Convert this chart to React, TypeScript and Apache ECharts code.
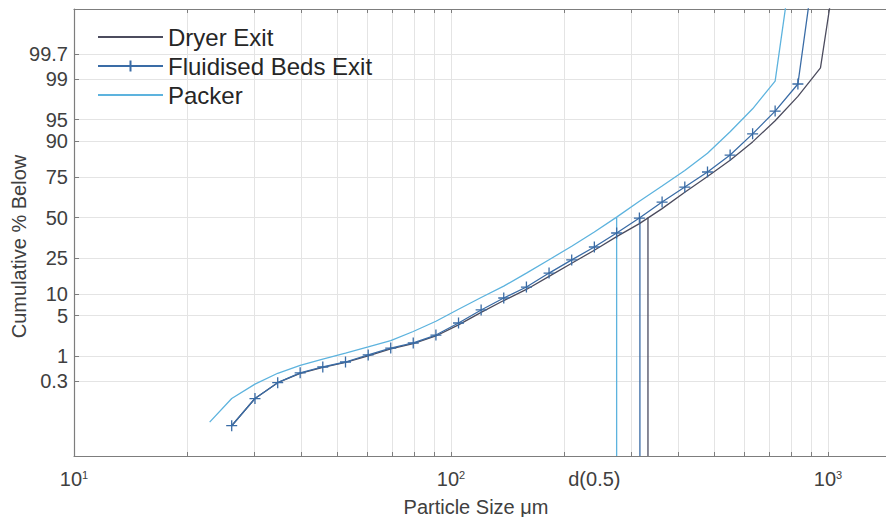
import React, { useEffect, useRef } from "react";
import * as echarts from "echarts";

// ---- data (particle size in µm, cumulative % below) ----
const seriesNames = ["Dryer Exit", "Fluidised Beds Exit", "Packer"];

const dryerSizes = [26.2, 30.2, 34.7, 39.8, 45.7, 52.5, 60.3, 69.2, 79.4, 91.2, 104.7, 120.2, 138, 158.5, 182, 209, 240, 275, 316, 363, 417, 479, 550, 631, 724, 832, 955, 1096];
const dryerPct = [0.024, 0.12, 0.28, 0.45, 0.6, 0.76, 1.02, 1.38, 1.72, 2.35, 3.6, 5.6, 8.2, 11.4, 16.2, 22.2, 29.2, 37.5, 46.0, 56.0, 66.5, 75.5, 83.2, 89.8, 94.8, 97.9, 99.4, 100];

const fluidSizes = [26.2, 30.2, 34.7, 39.8, 45.7, 52.5, 60.3, 69.2, 79.4, 91.2, 104.7, 120.2, 138, 158.5, 182, 209, 240, 275, 316, 363, 417, 479, 550, 631, 724, 832, 955];
const fluidPct = [0.024, 0.12, 0.28, 0.46, 0.61, 0.77, 1.06, 1.43, 1.77, 2.44, 3.85, 6.06, 8.87, 12.2, 17.6, 23.9, 31.1, 39.8, 49.7, 60.3, 69.6, 77.8, 85.3, 92.0, 96.3, 98.75, 100];

const packerSizes = [22.9, 26.2, 30.2, 34.7, 39.8, 45.7, 52.5, 60.3, 69.2, 79.4, 91.2, 104.7, 120.2, 138, 158.5, 182, 209, 240, 275, 316, 363, 417, 479, 550, 631, 724, 832];
const packerPct = [0.03, 0.12, 0.26, 0.45, 0.66, 0.88, 1.15, 1.5, 1.95, 2.8, 4.1, 6.2, 9.0, 12.5, 17.6, 24, 31.5, 40.5, 50.3, 60.8, 70.2, 78.5, 86, 92.5, 96.6, 98.9, 100];

// median sizes d(0.5) for Dryer, Fluidised, Packer
const d50Sizes = [333, 317, 275];

// axis ranges and ticks
const xMinSize = 10;
const xMaxSize = 1425;
const yMinZ = -4;
const yMaxZ = 3.5;
const xTickSizes = [10, 20, 30, 40, 50, 60, 70, 80, 90, 100, 200, 300, 400, 500, 600, 700, 800, 900, 1000];
const xLabelSizes = [10, 100, 240, 1000];
const xLabelTexts = ["{b|10}{s|1}", "{b|10}{s|2}", "d(0.5)", "{b|10}{s|3}"];
const yTickPct = [0.3, 1, 5, 10, 25, 50, 75, 90, 95, 99, 99.7];

const colors = ["#4c4c5e", "#3a6ca6", "#5db3de"];
const FONT = "'Liberation Sans', Arial, Helvetica, sans-serif";

// inverse standard normal CDF (probability scale)
function probit(pct: number): number {
  const p = Math.min(Math.max(pct / 100, 3e-7), 1 - 3e-7);
  const a = [-3.969683028665376e1, 2.209460984245205e2, -2.759285104469687e2, 1.38357751867269e2, -3.066479806614716e1, 2.506628277459239];
  const b = [-5.447609879822406e1, 1.615858368580409e2, -1.556989798598866e2, 6.680131188771972e1, -1.328068155288572e1];
  const c = [-7.784894002430293e-3, -3.223964580411365e-1, -2.400758277161838, -2.549671039971, 4.374664141464968, 2.938163982698783];
  const d = [7.784695709041462e-3, 3.224671290700398e-1, 2.445134137142996, 3.754408661907416];
  const pl = 0.02425;
  if (p < pl) {
    const q = Math.sqrt(-2 * Math.log(p));
    return (((((c[0] * q + c[1]) * q + c[2]) * q + c[3]) * q + c[4]) * q + c[5]) / ((((d[0] * q + d[1]) * q + d[2]) * q + d[3]) * q + 1);
  }
  if (p > 1 - pl) {
    const q = Math.sqrt(-2 * Math.log(1 - p));
    return -(((((c[0] * q + c[1]) * q + c[2]) * q + c[3]) * q + c[4]) * q + c[5]) / ((((d[0] * q + d[1]) * q + d[2]) * q + d[3]) * q + 1);
  }
  const q = p - 0.5;
  const r = q * q;
  return ((((((a[0] * r + a[1]) * r + a[2]) * r + a[3]) * r + a[4]) * r + a[5]) * q) / (((((b[0] * r + b[1]) * r + b[2]) * r + b[3]) * r + b[4]) * r + 1);
}

const toPoints = (sizes: number[], pct: number[]) => sizes.map((s, i) => [Math.log10(s), probit(pct[i])]);

export default function App() {
  const ref = useRef<HTMLDivElement>(null);

  useEffect(() => {
    if (!ref.current) return;
    const chart = echarts.init(ref.current, undefined, { renderer: "svg" });
    const axisGray = "#7d7d7d";
    const gridGray = "#e4e4e4";
    const labelGray = "#404040";

    const xTickVals = xTickSizes.map((v) => Math.log10(v));
    const xLabelVals = xLabelSizes.map((v) => Math.log10(v));
    const yTickVals = yTickPct.map((v) => probit(v));

    const xLabelFormatter = (v: number) => {
      for (let i = 0; i < xLabelVals.length; i++) if (Math.abs(xLabelVals[i] - v) < 1e-6) return xLabelTexts[i];
      return "";
    };
    const yLabelFormatter = (v: number) => {
      for (let i = 0; i < yTickVals.length; i++) if (Math.abs(yTickVals[i] - v) < 1e-6) return String(yTickPct[i]);
      return "";
    };

    const curves = [
      toPoints(dryerSizes, dryerPct),
      toPoints(fluidSizes, fluidPct),
      toPoints(packerSizes, packerPct),
    ];

    const mainSeries: any[] = curves.map((pts, i) => ({
      name: seriesNames[i],
      type: "line",
      data: pts,
      color: colors[i],
      lineStyle: { color: colors[i], width: 1.3 },
      symbol: i === 1 ? "path://M0,5L10,5M5,0L5,10" : "none",
      symbolSize: 11,
      itemStyle: { color: colors[i], borderColor: colors[i], borderWidth: 1.3 },
      showSymbol: i === 1,
      clip: true,
      z: 3,
    }));

    const d50Series: any[] = d50Sizes.map((d, i) => ({
      name: "d50 " + seriesNames[i],
      type: "line",
      data: [
        [Math.log10(d), yMinZ],
        [Math.log10(d), probit(50)],
      ],
      symbol: "none",
      lineStyle: { color: colors[i], width: 1.3 },
      silent: true,
      z: 2,
    }));

    chart.setOption({
      animation: false,
      backgroundColor: "#ffffff",
      textStyle: { fontFamily: FONT },
      grid: { left: 74, top: 9, right: 0, bottom: 61, containLabel: false, outerBoundsMode: "none" },
      legend: {
        data: seriesNames.map((n, i) => (i === 1 ? { name: n } : { name: n, itemStyle: { opacity: 0 } })),
        orient: "vertical",
        left: 97,
        top: 25,
        padding: 0,
        itemGap: 5,
        itemWidth: 65,
        itemHeight: 14,
        textStyle: { fontSize: 24, color: "#262626", fontFamily: FONT },
      },
      xAxis: [
        {
          type: "value",
          position: "bottom",
          min: Math.log10(xMinSize),
          max: Math.log10(xMaxSize),
          name: "Particle Size μm",
          nameLocation: "middle",
          nameGap: 41,
          nameTextStyle: { fontSize: 20, color: labelGray, fontFamily: FONT, padding: [0, 8, 0, 0] },
          axisLine: { show: true, onZero: false, lineStyle: { color: axisGray, width: 1.2 } },
          axisTick: { show: true, inside: true, length: 4, customValues: xTickVals, lineStyle: { color: axisGray } },
          axisLabel: {
            show: true,
            customValues: xLabelVals,
            margin: 13,
            formatter: xLabelFormatter,
            color: labelGray,
            fontSize: 20,
            fontFamily: FONT,
            rich: {
              b: { fontSize: 20, color: labelGray, fontFamily: FONT },
              s: { fontSize: 11, color: labelGray, fontFamily: FONT, verticalAlign: "top" },
            },
          },
          splitLine: { show: true, lineStyle: { color: gridGray, width: 1 } },
        },
        {
          type: "value",
          position: "top",
          min: Math.log10(xMinSize),
          max: Math.log10(xMaxSize),
          axisLine: { show: true, onZero: false, lineStyle: { color: axisGray, width: 1.2 } },
          axisTick: { show: true, inside: true, length: 4, customValues: xTickVals, lineStyle: { color: axisGray } },
          axisLabel: { show: false },
          splitLine: { show: false },
        },
      ],
      yAxis: {
        type: "value",
        min: yMinZ,
        max: yMaxZ,
        name: "Cumulative % Below",
        nameLocation: "middle",
        nameGap: 45,
        nameRotate: 90,
        nameMoveOverlap: false,
        nameTextStyle: { fontSize: 20, color: labelGray, fontFamily: FONT, padding: [0, 28, 0, 0] },
        axisLine: { show: true, onZero: false, lineStyle: { color: axisGray, width: 1.2 } },
        axisTick: { show: true, inside: true, length: 5, customValues: yTickVals, lineStyle: { color: axisGray } },
        axisLabel: {
          show: true,
          customValues: yTickVals,
          margin: 6,
          formatter: yLabelFormatter,
          color: labelGray,
          fontSize: 20,
          fontFamily: FONT,
        },
        splitLine: { show: true, lineStyle: { color: gridGray, width: 1 } },
      },
      series: [...mainSeries, ...d50Series],
    });

    return () => {
      chart.dispose();
    };
  }, []);

  return <div ref={ref} style={{ position: "fixed", left: 0, top: 0, width: 886, height: 517 }} />;
}
